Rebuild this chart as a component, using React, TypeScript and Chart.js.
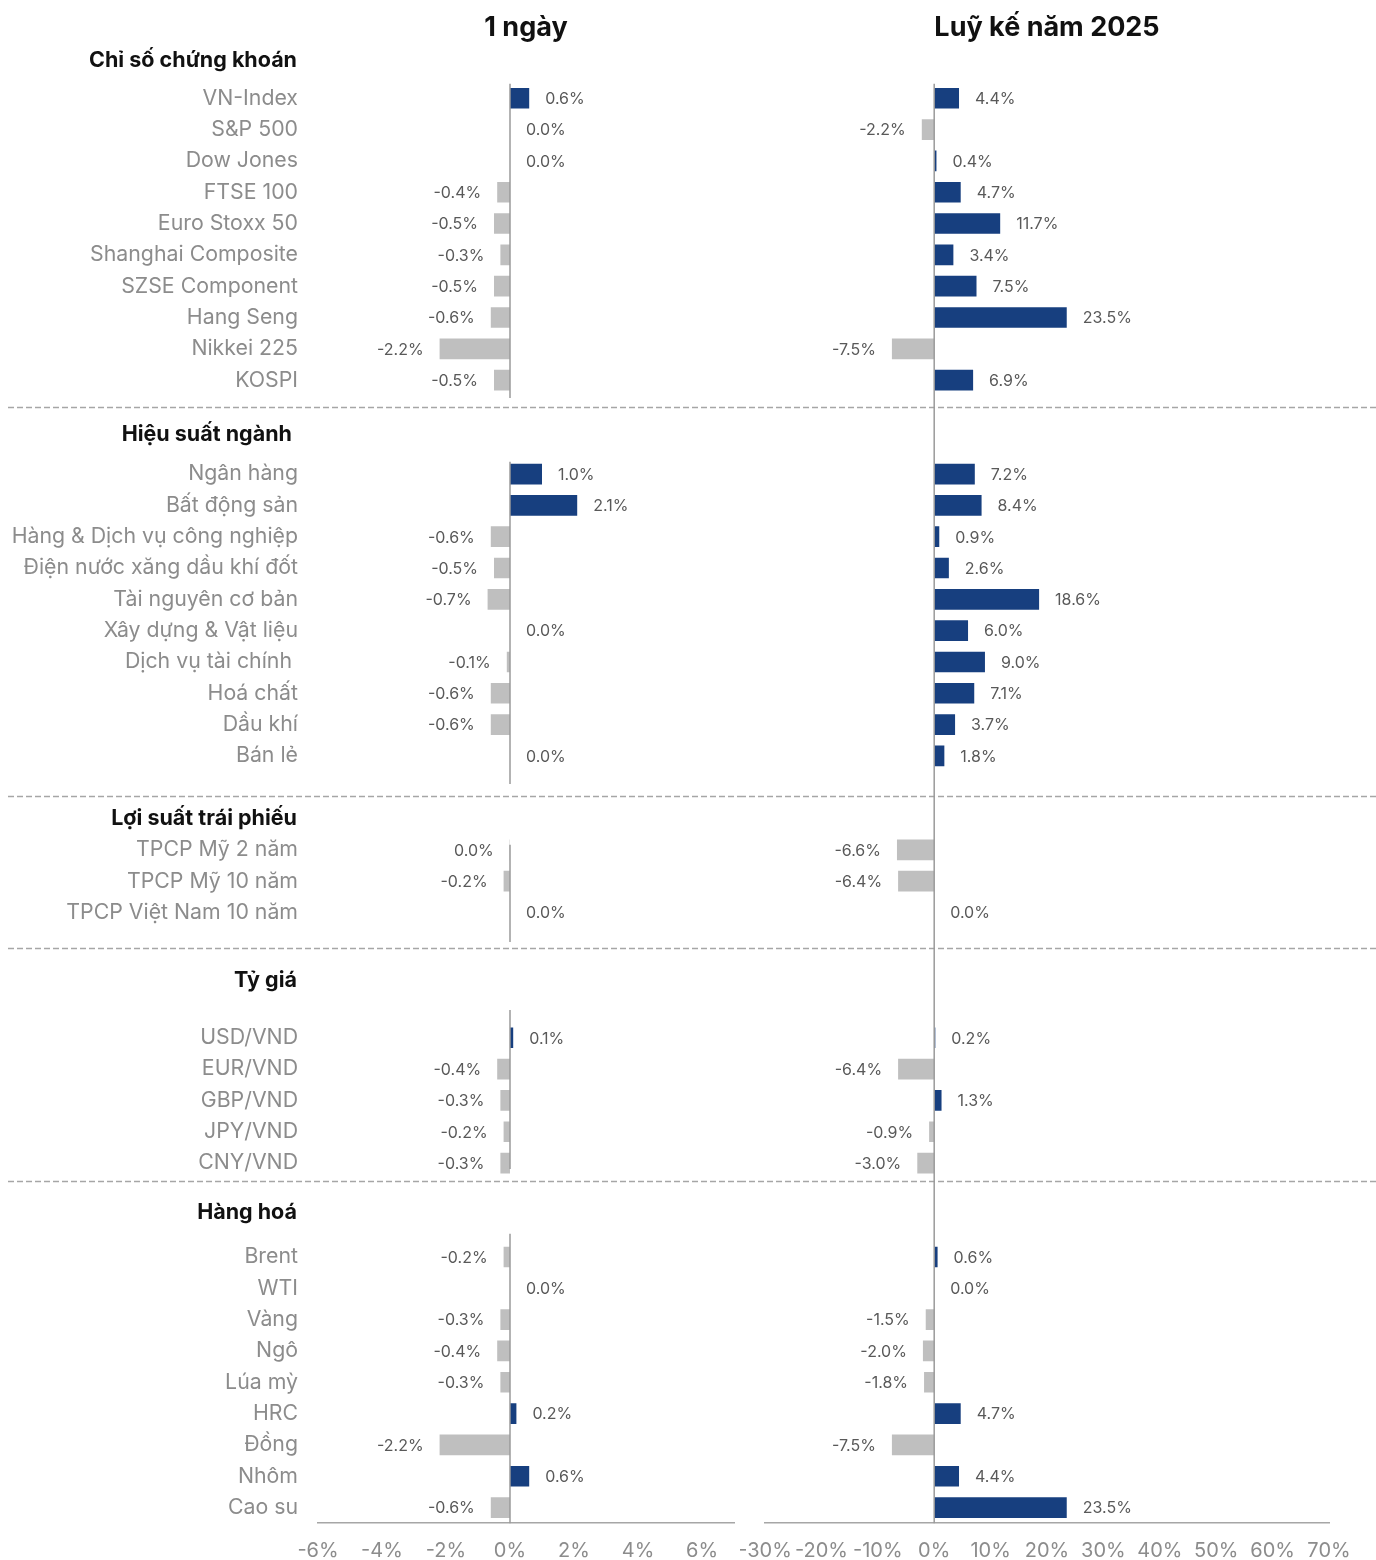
import React, { useEffect, useRef } from 'react';
import { Chart, registerables } from 'chart.js';

Chart.register(...registerables);

const FONT = 'Inter, "Noto Sans", "DejaVu Sans", sans-serif';
const NAVY = '#173f7f';
const GREY = '#bfbfbf';

// ---------- data ----------
const panelTitles = ['1 ngày', 'Luỹ kế năm 2025'];
const sectionTitles = ['Chỉ số chứng khoán', 'Hiệu suất ngành ', 'Lợi suất trái phiếu', 'Tỷ giá', 'Hàng hoá'];

const stockLabels = ['VN-Index', 'S&P 500', 'Dow Jones', 'FTSE 100', 'Euro Stoxx 50', 'Shanghai Composite', 'SZSE Component', 'Hang Seng', 'Nikkei 225', 'KOSPI'];
const stockDay = [0.6, 0.0, 0.0, -0.4, -0.5, -0.3, -0.5, -0.6, -2.2, -0.5];
const stockYtd = [4.4, -2.2, 0.4, 4.7, 11.7, 3.4, 7.5, 23.5, -7.5, 6.9];

const sectorLabels = ['Ngân hàng', 'Bất động sản', 'Hàng & Dịch vụ công nghiệp', 'Điện nước xăng dầu khí đốt', 'Tài nguyên cơ bản', 'Xây dựng & Vật liệu', 'Dịch vụ tài chính ', 'Hoá chất', 'Dầu khí', 'Bán lẻ'];
const sectorDay = [1.0, 2.1, -0.6, -0.5, -0.7, 0.0, -0.1, -0.6, -0.6, 0.0];
const sectorYtd = [7.2, 8.4, 0.9, 2.6, 18.6, 6.0, 9.0, 7.1, 3.7, 1.8];

const bondLabels = ['TPCP Mỹ 2 năm', 'TPCP Mỹ 10 năm', 'TPCP Việt Nam 10 năm'];
const bondDay = [-0.01, -0.2, 0.0];
const bondYtd = [-6.6, -6.4, 0.0];

const fxLabels = ['USD/VND', 'EUR/VND', 'GBP/VND', 'JPY/VND', 'CNY/VND'];
const fxDay = [0.1, -0.4, -0.3, -0.2, -0.3];
const fxYtd = [0.2, -6.4, 1.3, -0.9, -3.0];

const commodityLabels = ['Brent', 'WTI', 'Vàng', 'Ngô', 'Lúa mỳ', 'HRC', 'Đồng', 'Nhôm', 'Cao su'];
const commodityDay = [-0.2, 0.0, -0.3, -0.4, -0.3, 0.2, -2.2, 0.6, -0.6];
const commodityYtd = [0.6, 0.0, -1.5, -2.0, -1.8, 4.7, -7.5, 4.4, 23.5];

const dayTicks = [-6, -4, -2, 0, 2, 4, 6];
const ytdTicks = [-30, -20, -10, 0, 10, 20, 30, 40, 50, 60, 70];

// ---------- layout (row units) ----------
const GAP_ROWS = [0, 2, 2, 3, 2];
const HEADER_OFFSET = [-1.19, -1.25, -1.0, -1.82, -1.41];
const DIVIDER_OFFSET = [0, -2.14, -1.72, -2.87, -2.43];
const LINE_FROM = [-0.46, -0.39, -0.16, -0.89, -0.74];
const LINE_TO = [0.57, 0.9, 0.94, 0.19, 0.5];

const sectionLabels = [stockLabels, sectorLabels, bondLabels, fxLabels, commodityLabels];
const sectionDay = [stockDay, sectorDay, bondDay, fxDay, commodityDay];
const sectionYtd = [stockYtd, sectorYtd, bondYtd, fxYtd, commodityYtd];

const rowLabels: string[] = [];
const dayAll: (number | null)[] = [];
const ytdAll: (number | null)[] = [];
const sectionStart: number[] = [];
const sectionEnd: number[] = [];
sectionLabels.forEach((labels, s) => {
  for (let g = 0; g < GAP_ROWS[s]; g++) {
    rowLabels.push('');
    dayAll.push(null);
    ytdAll.push(null);
  }
  sectionStart.push(rowLabels.length);
  labels.forEach((l, i) => {
    rowLabels.push(l);
    dayAll.push(sectionDay[s][i]);
    ytdAll.push(sectionYtd[s][i]);
  });
  sectionEnd.push(rowLabels.length - 1);
});

const fmt = (v: number) => (Math.abs(v) < 0.05 ? 0 : v).toFixed(1) + '%';

function overlay(side: 'left' | 'right', values: (number | null)[]) {
  return {
    id: 'overlay-' + side,
    afterDatasetsDraw(chart: any) {
      const { ctx, chartArea, scales } = chart;
      const xs = scales.x;
      const ys = scales.y;
      const W = chart.width;
      ctx.save();

      // title
      ctx.fillStyle = '#111';
      ctx.font = `bold 27px ${FONT}`;
      ctx.textAlign = 'center';
      ctx.textBaseline = 'middle';
      ctx.fillText(side === 'left' ? panelTitles[0] : panelTitles[1], (chartArea.left + chartArea.right) / 2, 28);

      // dividers
      ctx.strokeStyle = '#a6a6a6';
      ctx.lineWidth = 1.5;
      ctx.setLineDash([6, 3]);
      for (let s = 1; s < sectionStart.length; s++) {
        const y = Math.round(ys.getPixelForValue(sectionStart[s] + DIVIDER_OFFSET[s])) + 0.5;
        ctx.beginPath();
        ctx.moveTo(side === 'left' ? 8 : 0, y);
        ctx.lineTo(W, y);
        ctx.stroke();
      }
      ctx.setLineDash([]);

      // zero lines
      const x0 = xs.getPixelForValue(0);
      ctx.strokeStyle = '#9a9a9a';
      ctx.lineWidth = 1.5;
      if (side === 'left') {
        for (let s = 0; s < sectionStart.length; s++) {
          const y1 = ys.getPixelForValue(sectionStart[s] + LINE_FROM[s]);
          const y2 = ys.getPixelForValue(sectionEnd[s] + LINE_TO[s]);
          ctx.beginPath();
          ctx.moveTo(x0, y1);
          ctx.lineTo(x0, y2);
          ctx.stroke();
        }
      } else {
        ctx.beginPath();
        ctx.moveTo(x0, ys.getPixelForValue(sectionStart[0] + LINE_FROM[0]));
        ctx.lineTo(x0, chartArea.bottom);
        ctx.stroke();
      }

      // section headers
      if (side === 'left') {
        ctx.fillStyle = '#111';
        ctx.font = `bold 21.5px ${FONT}`;
        ctx.textAlign = 'right';
        ctx.textBaseline = 'middle';
        sectionTitles.forEach((t, s) => {
          ctx.fillText(t, 297, ys.getPixelForValue(sectionStart[s] + HEADER_OFFSET[s]));
        });
      }

      // value labels
      const meta = chart.getDatasetMeta(0);
      ctx.fillStyle = '#595959';
      ctx.font = `16px ${FONT}`;
      ctx.textBaseline = 'middle';
      meta.data.forEach((el: any, i: number) => {
        const v = values[i];
        if (v === null || v === undefined) return;
        const neg = v < 0;
        ctx.textAlign = neg ? 'right' : 'left';
        ctx.fillText(fmt(v), el.x + (neg ? -16 : 16), el.y + 1);
      });
      ctx.restore();
    },
  };
}

function makeConfig(side: 'left' | 'right'): any {
  const values = side === 'left' ? dayAll : ytdAll;
  const ticks = side === 'left' ? dayTicks : ytdTicks;
  return {
    type: 'bar',
    data: {
      labels: rowLabels,
      datasets: [
        {
          data: values,
          backgroundColor: (c: any) => ((c.raw ?? 0) >= 0 ? NAVY : GREY),
          barPercentage: 0.66,
          categoryPercentage: 1,
        },
      ],
    },
    options: {
      indexAxis: 'y',
      responsive: false,
      maintainAspectRatio: false,
      animation: false,
      layout: {
        padding: side === 'left' ? { top: 82.6, left: 0, right: 6, bottom: 0 } : { top: 82.6, left: 0, right: 47, bottom: 0 },
      },
      plugins: { legend: { display: false }, tooltip: { enabled: false }, title: { display: false } },
      scales: {
        x: {
          type: 'linear',
          min: side === 'left' ? -6 : -30,
          max: side === 'left' ? 7 : 70,
          afterBuildTicks: (s: any) => {
            s.ticks = ticks.map((v) => ({ value: v }));
          },
          afterFit: (s: any) => {
            s.height = 36.8;
            s.paddingLeft = 0;
            s.paddingRight = 0;
          },
          ticks: {
            callback: (v: any) => v + '%',
            color: '#8c8c8c',
            font: { family: FONT, size: 20 },
            padding: 16,
            autoSkip: false,
            maxRotation: 0,
          },
          grid: { display: false, drawTicks: false },
          border: { display: true, color: '#a6a6a6', width: 1.5 },
        },
        y: {
          type: 'category',
          display: side === 'left',
          afterFit: (s: any) => {
            s.width = side === 'left' ? 318 : 25;
          },
          ticks: {
            color: '#8c8c8c',
            font: { family: FONT, size: 21.3 },
            padding: 20,
            autoSkip: false,
          },
          grid: { display: false, drawTicks: false },
          border: { display: false },
        },
      },
    },
    plugins: [overlay(side, values)],
  };
}

function Panel({ side, left, width }: { side: 'left' | 'right'; left: number; width: number }) {
  const ref = useRef<HTMLCanvasElement>(null);
  useEffect(() => {
    if (!ref.current) return;
    const chart = new Chart(ref.current, makeConfig(side));
    return () => chart.destroy();
  }, [side]);
  return (
    <canvas
      ref={ref}
      width={width}
      height={1560}
      style={{ position: 'absolute', left, top: 0, width, height: 1560 }}
    />
  );
}

export default function App() {
  return (
    <div style={{ position: 'absolute', left: 0, top: 0, width: 1376, height: 1560, background: '#fff', overflow: 'hidden' }}>
      <Panel side="left" left={0} width={740} />
      <Panel side="right" left={740} width={636} />
    </div>
  );
}
